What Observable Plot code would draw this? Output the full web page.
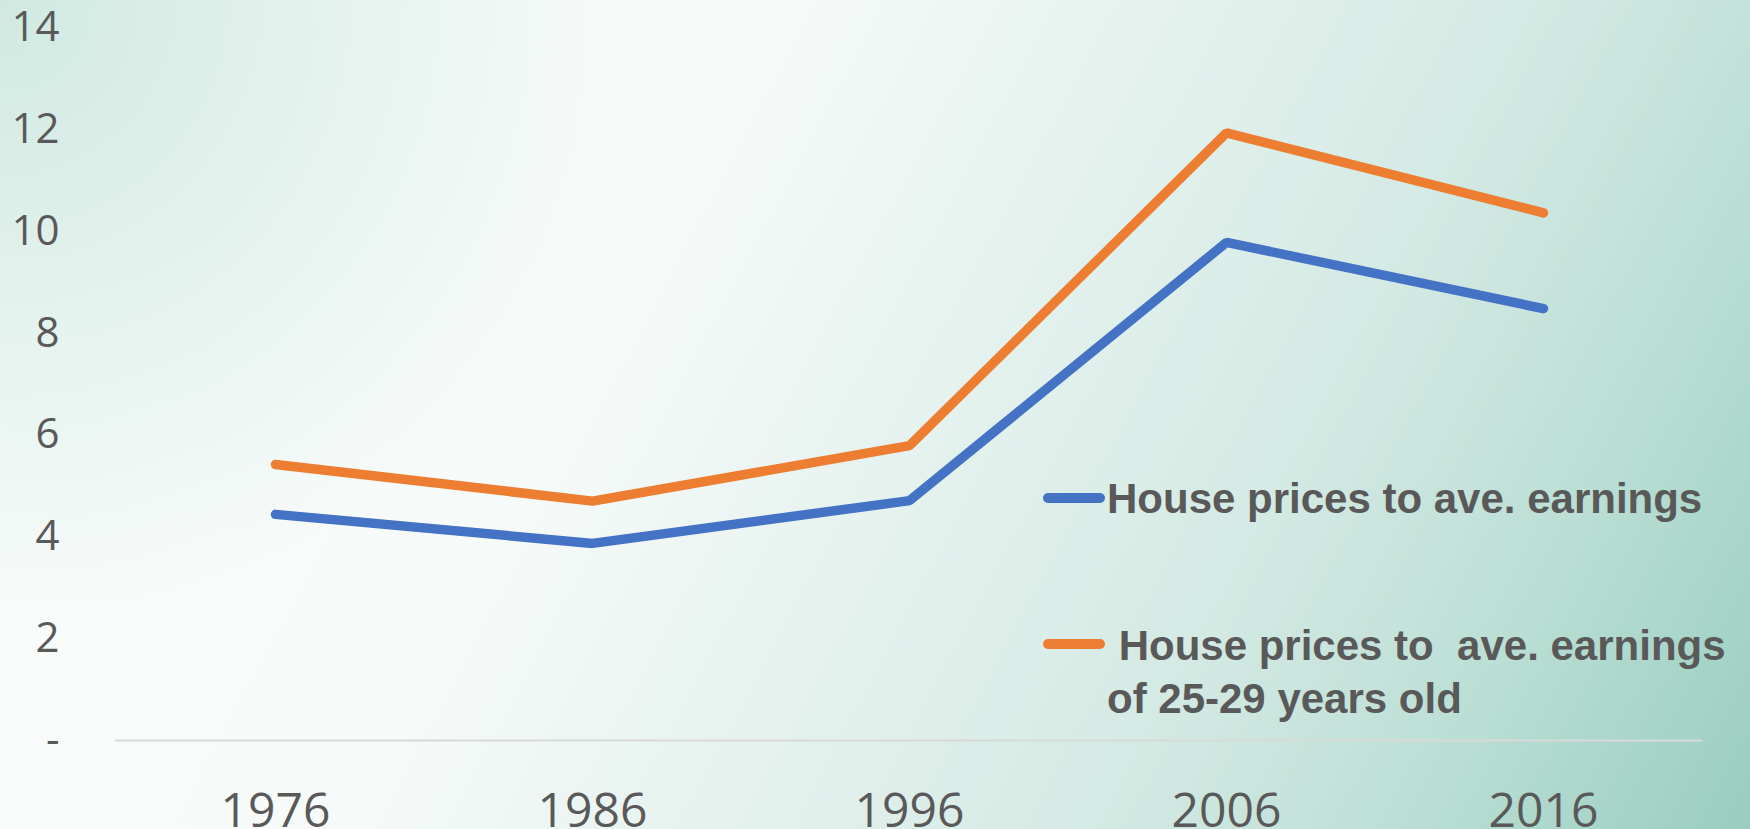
<!DOCTYPE html>
<html>
<head>
<meta charset="utf-8">
<script src="https://cdn.jsdelivr.net/npm/d3@7"></script>
<script src="https://cdn.jsdelivr.net/npm/@observablehq/plot@0.6"></script>
<style>
  html, body { margin: 0; padding: 0; }
  #chart {
    width: 1750px; height: 829px; position: relative; overflow: hidden;
    background:
      radial-gradient(circle at 0 0, rgba(205,232,224,0.95) 0px, rgba(205,232,224,0) 620px),
      linear-gradient(118deg, #f9fcfb 0%, #f6faf9 36%, #d4eae4 70%, #bcdfd5 84%, #99cdc0 100%);
  }
  #chart svg { display: block; }
</style>
</head>
<body>
<div id="chart"></div>
<script>
// ---- data ----
const years = ["1976", "1986", "1996", "2006", "2016"];
const seriesNames = [
  "House prices to ave. earnings",
  " House prices to  ave. earnings",
];
const seriesNameLine2 = "of 25-29 years old";
const allEarnings = [4.44, 3.87, 4.71, 9.78, 8.48];
const youngEarnings = [5.42, 4.70, 5.79, 11.93, 10.36];
const yTicks = [0, 2, 4, 6, 8, 10, 12, 14];
const colors = ["#4472C4", "#ED7D31"];

const rowsAll = years.map((y, i) => ({year: y, value: allEarnings[i]}));
const rowsYoung = years.map((y, i) => ({year: y, value: youngEarnings[i]}));

const W = 1750, H = 829;
const plot = Plot.plot({
  width: W,
  height: H,
  marginLeft: 115,
  marginRight: 48,
  marginTop: 27,
  marginBottom: 89,
  style: {background: "transparent", fontFamily: "'Open Sans', sans-serif", color: "#595959", overflow: "visible"},
  x: {type: "point", domain: years, padding: 0.5},
  y: {domain: [0, 14]},
  marks: [
    Plot.ruleY([0], {stroke: "#d9d9d9", strokeWidth: 2}),
    Plot.axisY({ticks: yTicks, tickSize: 0, tickPadding: 56, fontSize: 42,
      tickFormat: d => d === 0 ? "-" : String(d), fill: "#595959", label: null}),
    Plot.axisX({tickSize: 0, tickPadding: 52, fontSize: 48, fill: "#595959", label: null}),
    Plot.line(rowsAll, {x: "year", y: "value", stroke: colors[0], strokeWidth: 9.5,
      strokeLinecap: "round", strokeLinejoin: "miter"}),
    Plot.line(rowsYoung, {x: "year", y: "value", stroke: colors[1], strokeWidth: 9.5,
      strokeLinecap: "round", strokeLinejoin: "miter"}),
  ]
});
document.getElementById("chart").appendChild(plot);

// ---- legend inside the plot area ----
const svg = d3.select(plot);
const lg = svg.append("g")
  .attr("font-family", "'Liberation Sans', Arial, sans-serif")
  .attr("font-weight", "bold")
  .attr("font-size", 42)
  .attr("text-anchor", "start")
  .attr("fill", "#595959");
const entries = [
  {color: colors[0], lines: [seriesNames[0]], ly: 498, ty: 513},
  {color: colors[1], lines: [seriesNames[1], seriesNameLine2], ly: 644, ty: 660},
];
entries.forEach(e => {
  lg.append("line")
    .attr("x1", 1048).attr("x2", 1100)
    .attr("y1", e.ly).attr("y2", e.ly)
    .attr("stroke", e.color).attr("stroke-width", 10)
    .attr("stroke-linecap", "round");
  e.lines.forEach((t, i) => {
    lg.append("text")
      .attr("x", 1107).attr("y", e.ty + i * 53)
      .attr("text-anchor", "start")
      .attr("xml:space", "preserve")
      .style("white-space", "pre")
      .text(t);
  });
});
</script>
</body>
</html>
